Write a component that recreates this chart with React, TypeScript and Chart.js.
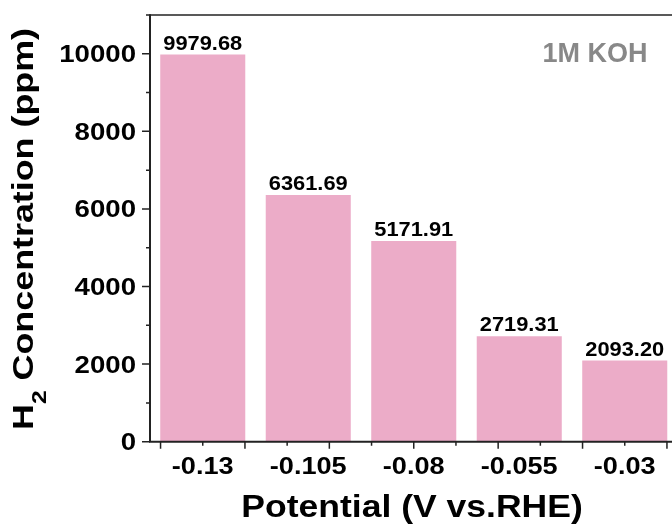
import React, { useEffect, useRef } from "react";
import { Chart, registerables } from "chart.js";

Chart.register(...registerables);

const potentials = ["-0.13", "-0.105", "-0.08", "-0.055", "-0.03"];
const h2ppm = [9979.68, 6361.69, 5171.91, 2719.31, 2093.2];
const valueLabels = ["9979.68", "6361.69", "5171.91", "2719.31", "2093.20"];
const yMajorTicks = [0, 2000, 4000, 6000, 8000, 10000];
const yMinorTicks = [1000, 3000, 5000, 7000, 9000, 11000];
const xMajorTicks = [-0.14, -0.12, -0.1, -0.08, -0.06, -0.04, -0.02];
const xMinorTicks = [-0.13, -0.11, -0.09, -0.07, -0.05, -0.03];
const firstPotential = -0.13;
const potentialStep = 0.025;
const annotation = "1M KOH";
const xTitle = "Potential (V vs.RHE)";

const FONT = '"Liberation Sans", Arial, sans-serif';
const AXIS = "#222222";

function sText(
  ctx: CanvasRenderingContext2D,
  text: string,
  x: number,
  y: number,
  size: number,
  sx: number,
  align: string,
  color: string
) {
  ctx.save();
  ctx.font = `bold ${size}px ${FONT}`;
  ctx.fillStyle = color;
  ctx.textBaseline = "alphabetic";
  ctx.textAlign = "left";
  const w = ctx.measureText(text).width * sx;
  const left = align === "center" ? x - w / 2 : align === "right" ? x - w : x;
  ctx.translate(left, y);
  ctx.scale(sx, 1);
  ctx.fillText(text, 0, 0);
  ctx.restore();
}

const decorPlugin = {
  id: "decor",
  afterDraw(chart: any) {
    const ctx: CanvasRenderingContext2D = chart.ctx;
    const xs = chart.scales.x;
    const ys = chart.scales.y;
    const area = chart.chartArea;
    const toIdx = (v: number) => (v - firstPotential) / potentialStep;
    const y0 = ys.getPixelForValue(0);
    const yTop = ys.getPixelForValue(11000);
    const xL = area.left;

    ctx.save();
    ctx.strokeStyle = AXIS;
    ctx.lineCap = "butt";
    // top border
    ctx.lineWidth = 1.5;
    ctx.beginPath();
    ctx.moveTo(xL, yTop);
    ctx.lineTo(chart.width, yTop);
    ctx.stroke();
    // axes
    ctx.lineWidth = 2;
    ctx.beginPath();
    ctx.moveTo(xL, yTop - 0.75);
    ctx.lineTo(xL, y0 + 1);
    ctx.moveTo(xL - 1, y0);
    ctx.lineTo(chart.width, y0);
    ctx.stroke();
    // y ticks
    ctx.lineWidth = 1.5;
    ctx.beginPath();
    yMajorTicks.forEach((v) => {
      const p = ys.getPixelForValue(v);
      ctx.moveTo(xL - 8, p);
      ctx.lineTo(xL, p);
    });
    yMinorTicks.forEach((v) => {
      const p = ys.getPixelForValue(v);
      ctx.moveTo(xL - 4, p);
      ctx.lineTo(xL, p);
    });
    // x ticks
    xMajorTicks.forEach((v) => {
      const p = xs.getPixelForValue(toIdx(v));
      ctx.moveTo(p, y0);
      ctx.lineTo(p, y0 + 7);
    });
    xMinorTicks.forEach((v) => {
      const p = xs.getPixelForValue(toIdx(v));
      ctx.moveTo(p, y0);
      ctx.lineTo(p, y0 + 4);
    });
    ctx.stroke();
    ctx.restore();

    // y tick labels
    yMajorTicks.forEach((v) => {
      const p = ys.getPixelForValue(v);
      sText(ctx, String(v), xL - 14, p + 8.5, 24, 1.15, "right", "#000");
    });
    // x tick labels
    potentials.forEach((lab, i) => {
      const p = xs.getPixelForValue(i);
      sText(ctx, lab, p, y0 + 32, 24, 1.13, "center", "#000");
    });
    // value labels
    h2ppm.forEach((v, i) => {
      const px = xs.getPixelForValue(i);
      const py = ys.getPixelForValue(v);
      sText(ctx, valueLabels[i], px, py - 5, 21, 1.04, "center", "#000");
    });
    // annotation
    sText(ctx, annotation, 595, 61.5, 27, 1.0, "center", "#888888");
    // x title
    sText(ctx, xTitle, 412, 516.5, 32, 1.11, "center", "#000");

    // y title with subscript
    ctx.save();
    const big = 29;
    const small = 20;
    ctx.font = `bold ${big}px ${FONT}`;
    const wH = ctx.measureText("H").width;
    const wRest = ctx.measureText(" Concentration (ppm)").width;
    ctx.font = `bold ${small}px ${FONT}`;
    const w2 = ctx.measureText("2").width;
    const natural = wH + w2 + wRest;
    const sx = 402 / natural;
    ctx.translate(33, 430);
    ctx.rotate(-Math.PI / 2);
    ctx.scale(sx, 1);
    ctx.fillStyle = "#000";
    ctx.textBaseline = "alphabetic";
    ctx.textAlign = "left";
    ctx.font = `bold ${big}px ${FONT}`;
    ctx.fillText("H", 0, 0);
    ctx.font = `bold ${small}px ${FONT}`;
    ctx.fillText("2", wH, 13);
    ctx.font = `bold ${big}px ${FONT}`;
    ctx.fillText(" Concentration (ppm)", wH + w2, 0);
    ctx.restore();
  },
};

export default function App() {
  const ref = useRef<HTMLCanvasElement | null>(null);
  useEffect(() => {
    if (!ref.current) return;
    const chart = new Chart(ref.current, {
      type: "bar",
      data: {
        labels: potentials,
        datasets: [
          {
            data: h2ppm,
            backgroundColor: "#ECACC8",
            borderWidth: 0,
            categoryPercentage: 1,
            barPercentage: 0.806,
          },
        ],
      },
      options: {
        responsive: false,
        animation: false,
        devicePixelRatio: 1,
        layout: { padding: { left: 150, top: 15, right: 12.5, bottom: 82.3 } },
        plugins: { legend: { display: false }, tooltip: { enabled: false } },
        scales: {
          x: { display: false },
          y: { display: false, min: 0, max: 11000 },
        },
      },
      plugins: [decorPlugin],
    });
    return () => chart.destroy();
  }, []);
  return (
    <div
      style={{
        position: "fixed",
        left: 0,
        top: 0,
        width: 672,
        height: 524,
        overflow: "hidden",
        background: "#fff",
      }}
    >
      <canvas ref={ref} width={690} height={524} style={{ width: 690, height: 524, display: "block" }} />
    </div>
  );
}
